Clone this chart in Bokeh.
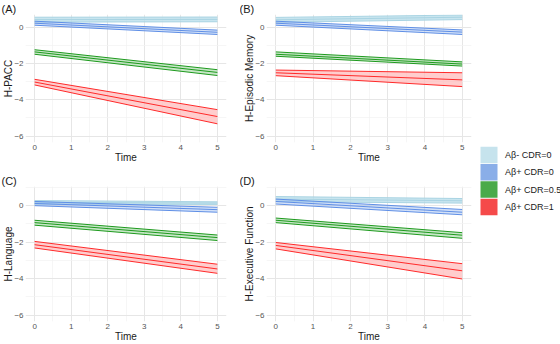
from bokeh.plotting import figure
from bokeh.layouts import row, column
from bokeh.models import Range1d, FixedTicker
from bokeh.embed import file_html
from bokeh.resources import INLINE
from bokeh.core.properties import value

times = [0, 5]
groups = ["Aβ- CDR=0", "Aβ+ CDR=0", "Aβ+ CDR=0.5", "Aβ+ CDR=1"]
line_colors = ["#a9d4e3", "#5f8fe6", "#1e9a1e", "#ff2a2a"]
fill_colors = ["#b5dcea", "#9dbcf0", "#8fd08f", "#ffb8b8"]
fill_alphas = [0.75, 0.45, 0.5, 0.7]
key_colors = ["#c6e3ed", "#8aaee8", "#4aaa4a", "#f54a4a"]

panels = ["(A)", "(B)", "(C)", "(D)"]
ylabels = ["H-PACC", "H-Episodic Memory", "H-Language", "H-Executive Function"]

# per panel, per group: mid, lower, upper at times [0, 5]
mid = {
    "(A)": [[0.42, 0.43], [0.22, -0.28], [-1.36, -2.49], [-3.02, -4.92]],
    "(B)": [[0.41, 0.55], [0.22, -0.27], [-1.49, -2.03], [-2.51, -2.90]],
    "(C)": [[0.18, 0.14], [0.12, -0.22], [-0.93, -1.75], [-2.14, -3.47]],
    "(D)": [[0.36, 0.27], [0.23, -0.36], [-0.80, -1.62], [-2.18, -3.57]],
}
lower = {
    "(A)": [[0.28, 0.30], [0.11, -0.40], [-1.49, -2.66], [-3.18, -5.32]],
    "(B)": [[0.27, 0.42], [0.11, -0.40], [-1.60, -2.14], [-2.67, -3.27]],
    "(C)": [[0.08, 0.07], [0.00, -0.36], [-1.07, -1.91], [-2.32, -3.71]],
    "(D)": [[0.22, 0.14], [0.09, -0.50], [-0.93, -1.79], [-2.37, -4.02]],
}
upper = {
    "(A)": [[0.55, 0.56], [0.33, -0.16], [-1.24, -2.34], [-2.87, -4.54]],
    "(B)": [[0.54, 0.67], [0.33, -0.15], [-1.36, -1.91], [-2.36, -2.51]],
    "(C)": [[0.28, 0.21], [0.23, -0.09], [-0.80, -1.61], [-1.96, -3.21]],
    "(D)": [[0.50, 0.39], [0.36, -0.21], [-0.68, -1.48], [-2.02, -3.18]],
}

x_ticks = [0, 1, 2, 3, 4, 5]
y_ticks = [-6, -4, -2, 0]
FONT = "Liberation Sans"


def make_panel(tag, ylab, width, height, bl, br, bt, bb, ytop, tag_offset):
    p = figure(width=width, height=height, output_backend="svg", toolbar_location=None,
               x_range=Range1d(-0.25, 5.25), y_range=Range1d(-6.35, ytop),
               min_border_left=bl, min_border_right=br, min_border_top=bt, min_border_bottom=bb)
    p.outline_line_color = None
    p.background_fill_color = "white"
    p.title.text = tag
    p.title.align = "left"
    p.title.offset = tag_offset
    p.title.standoff = 0
    p.title.text_font = FONT
    p.title.text_font_size = "11px"
    p.title.text_font_style = "normal"
    p.title.text_color = "#1a1a1a"
    for ax in (p.xaxis[0], p.yaxis[0]):
        ax.axis_line_color = None
        ax.major_tick_line_color = None
        ax.minor_tick_line_color = None
        ax.major_tick_out = 0
        ax.major_tick_in = 0
        ax.minor_tick_out = 0
        ax.minor_tick_in = 0
        ax.major_label_text_font = FONT
        ax.major_label_text_font_size = "8px"
        ax.major_label_text_color = "#555555"
        ax.axis_label_text_font = FONT
        ax.axis_label_text_font_size = "10px"
        ax.axis_label_text_font_style = "normal"
        ax.axis_label_text_color = "#1a1a1a"
        ax.major_label_standoff = 2
    p.yaxis[0].axis_label_standoff = -3
    p.xaxis[0].axis_label_standoff = -1
    p.xaxis[0].ticker = FixedTicker(ticks=x_ticks, minor_ticks=[0.5, 1.5, 2.5, 3.5, 4.5])
    p.yaxis[0].ticker = FixedTicker(ticks=y_ticks, minor_ticks=[-5, -3, -1, 1])
    p.xaxis.axis_label = "Time"
    p.yaxis.axis_label = ylab
    for g in (p.xgrid[0], p.ygrid[0]):
        g.grid_line_color = "#e6e6e6"
        g.grid_line_width = 1
        g.minor_grid_line_color = "#f2f2f2"
        g.minor_grid_line_width = 0.7

    for i in range(len(groups)):
        p.varea(x=times, y1=lower[tag][i], y2=upper[tag][i],
                fill_color=fill_colors[i], fill_alpha=fill_alphas[i])
        for arr in (lower[tag][i], mid[tag][i], upper[tag][i]):
            p.line(times, arr, line_color=line_colors[i], line_width=1)
    return p


pA = make_panel("(A)", ylabels[0], 240, 172, 24, 14, 0, 30, 0.7, -24)
pB = make_panel("(B)", ylabels[1], 235, 172, 26, 4, 0, 30, 0.7, -27)
pC = make_panel("(C)", ylabels[2], 240, 172, 24, 14, 0, 21, 1.05, -24)
pD = make_panel("(D)", ylabels[3], 235, 172, 26, 4, 0, 21, 1.05, -27)

leg = figure(width=85, height=344, output_backend="svg", toolbar_location=None,
             x_range=Range1d(0, 85), y_range=Range1d(344, 0),
             min_border=0, x_axis_type=None, y_axis_type=None)
leg.outline_line_color = None
leg.xgrid.visible = False
leg.ygrid.visible = False
key_x = [13.5] * len(groups)
key_y = [154.5 + 17.3 * i for i in range(len(groups))]
leg.rect(x=key_x, y=key_y, width=17, height=16.5, fill_color=key_colors, line_color=None)
leg.text(x=[29.5] * len(groups), y=key_y, text=groups, text_font=value(FONT),
         text_font_size="9px", text_baseline="middle", text_align="left", text_color="#1a1a1a")

layout = row(column(pA, pC), column(pB, pD), leg)
open("out.html", "w").write(file_html(layout, INLINE))
